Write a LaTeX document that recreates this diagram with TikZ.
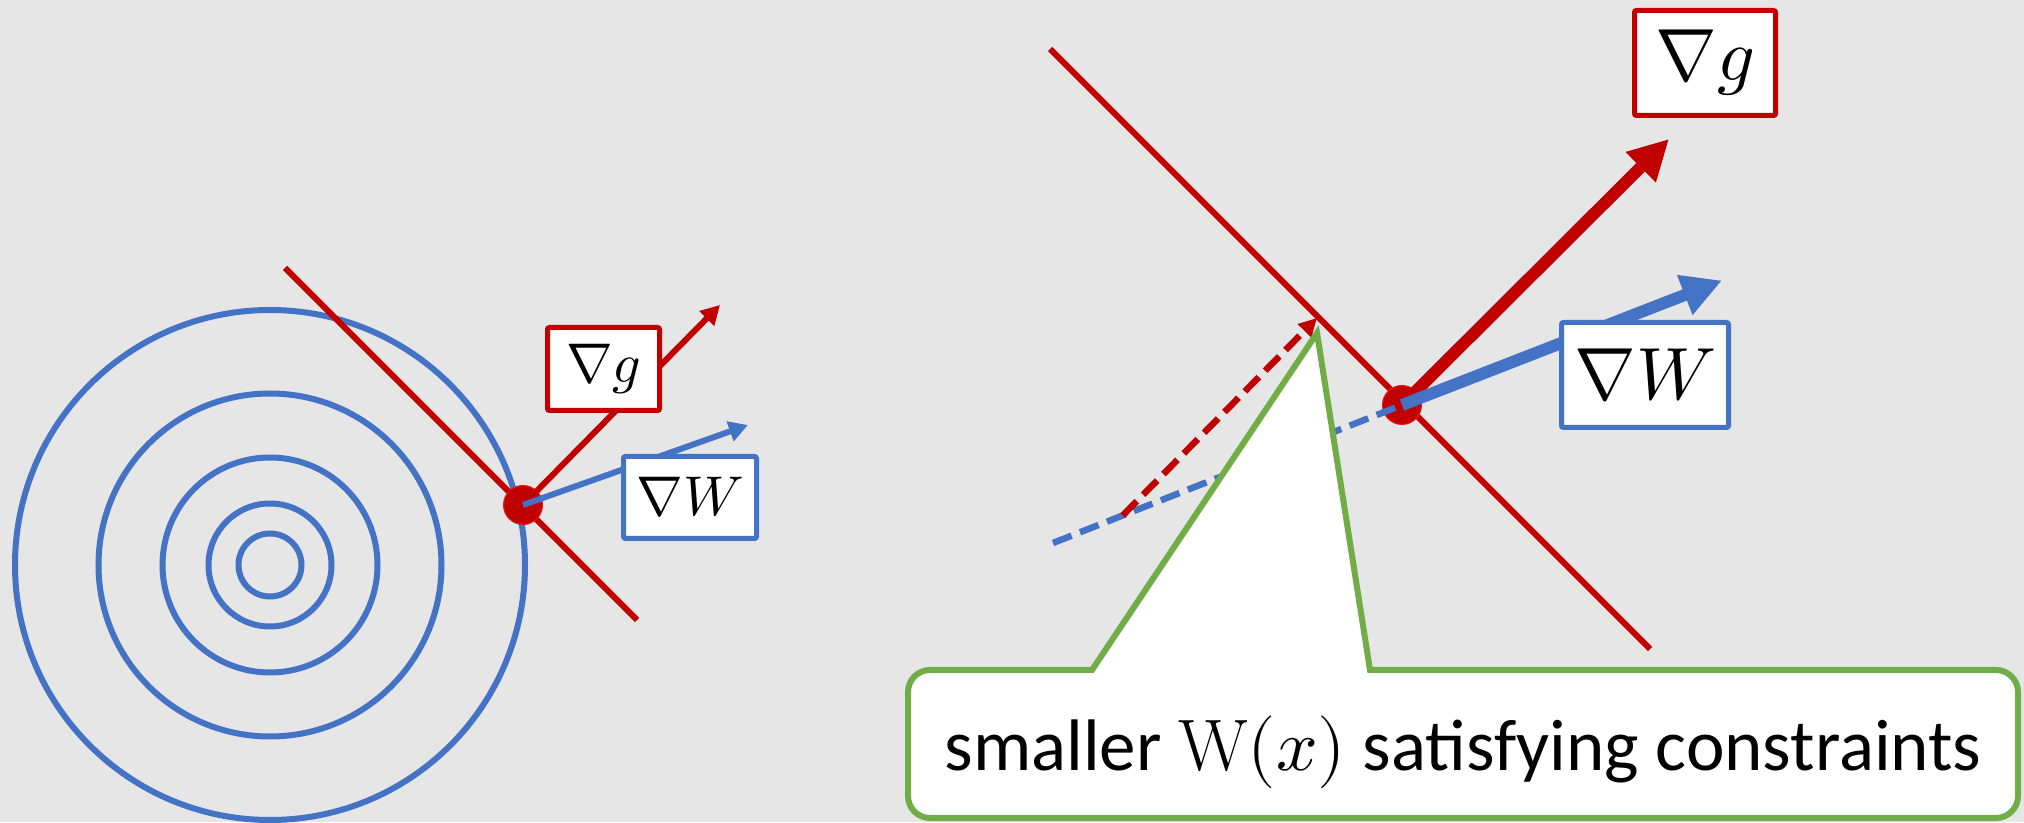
\documentclass[tikz,border=0pt]{standalone}
\usepackage{fontspec}
\usepackage{unicode-math}
\usetikzlibrary{arrows.meta,positioning,calc}
\newfontfamily\calibri{Carlito}
\definecolor{bggray}{RGB}{230,230,230}
\definecolor{darkred}{RGB}{192,0,0}
\definecolor{dotrim}{RGB}{240,20,20}
\definecolor{gradblue}{RGB}{68,114,196}
\definecolor{leafgreen}{RGB}{112,173,71}

\begin{document}
\begin{tikzpicture}[
    x=1pt, y=1pt,
    level/.style={draw=gradblue, line width=6pt},
    constraint/.style={draw=darkred, line width=6pt},
    point/.style={circle, fill=darkred, draw=dotrim, line width=1pt, minimum size=39pt, inner sep=0pt},
    gbox/.style={draw=darkred, fill=white, line width=5pt, rounded corners=2pt, inner sep=0pt},
    wbox/.style={draw=gradblue, fill=white, line width=5pt, rounded corners=2pt, inner sep=0pt},
    smallmath/.style={font=\fontsize{56}{60}\selectfont},
    bigmath/.style={font=\fontsize{74}{80}\selectfont},
    thinhead/.style={-{Triangle[length=19pt,width=20pt]}},
    thickhead/.style={-{Triangle[length=40pt,width=40pt]}},
    dashline/.style={line width=6.5pt, dash pattern=on 20pt off 9pt}
]

% Background
\fill[bggray] (0,0) rectangle (2024,822);
\useasboundingbox (0,0) rectangle (2024,822);

% Level sets of W
\foreach \r in {255,171.5,107.5,61.5,31.5}
    \draw[level] (270,257) circle[radius=\r];

% Constraint and gradients at the touching point
\coordinate (cL1) at (285,554);
\coordinate (cL2) at (637,202);
\draw[constraint] (cL1) -- (cL2);
\node[point] (dotL) at (523,317) {};
\coordinate (gtipL) at (720,517);
\coordinate (wtipL) at (748,397);
\draw[constraint, thinhead] (dotL.center) -- (gtipL);
\draw[draw=gradblue, line width=6pt, thinhead] (dotL.center) -- (wtipL);
\node[gbox, minimum width=112pt, minimum height=83pt, smallmath] (gradgL) at (603.5,453) {$\nabla g$};
\node[wbox, minimum width=133pt, minimum height=82pt, smallmath] (gradwL) at (690,324.5) {$\nabla W$};

% Zoomed view
\coordinate (cR1) at (1050,773);
\coordinate (cR2) at (1650,173);
\draw[constraint] (cR1) -- (cR2);
\node[point] (dotR) at (1402,417) {};
\coordinate (wstart) at (1053,279);
\draw[gradblue, dashline] (wstart) -- (dotR.center);
\coordinate (wbase) at ($(wstart)!0.2!(dotR)$);
\coordinate (gtarget) at (1317,504);
\draw[darkred, dashline, -{Triangle[length=18pt,width=18pt]}] (wbase) -- (gtarget);
\coordinate (gtipR) at (1669,683);
\coordinate (wtipR) at (1722,541.5);
\draw[darkred, line width=12pt, thickhead] (dotR.center) -- (gtipR);
\draw[gradblue, line width=12pt, thickhead] (dotR.center) -- (wtipR);
\node[gbox, minimum width=141pt, minimum height=105pt, bigmath] (gradgR) at (1705,759) {$\nabla g$};
\node[wbox, minimum width=167pt, minimum height=105pt, bigmath] (gradwR) at (1645,447) {$\nabla W$};

% Callout
\coordinate (pin) at (1317,489);
\draw[leafgreen, fill=white, line width=6pt] (pin) -- (1370,152) -- (1996,152)
    arc[start angle=90, end angle=0, radius=22] -- (2018,26)
    arc[start angle=0, end angle=-90, radius=22] -- (930,4)
    arc[start angle=270, end angle=180, radius=22] -- (908,130)
    arc[start angle=180, end angle=90, radius=22] -- (1092,152) -- cycle;
\node[anchor=base, font=\calibri\fontsize{73}{80}\selectfont] (note) at (1463,52) {smaller $\mathrm{W}(x)$ satisfying constraints};

\end{tikzpicture}
\end{document}
